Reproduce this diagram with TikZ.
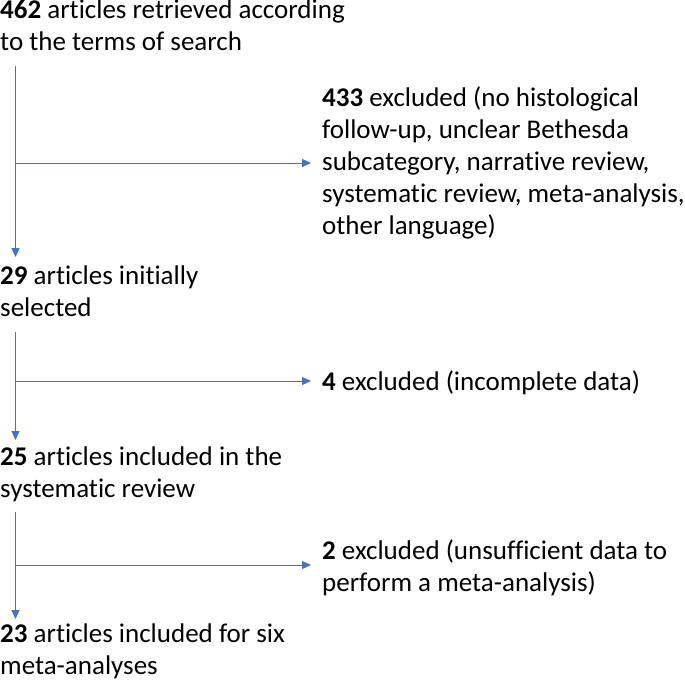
\documentclass[tikz,border=0pt]{standalone}
\usepackage{fontspec}
\setmainfont{Carlito}[Ligatures=NoCommon]
\usetikzlibrary{arrows.meta}
\definecolor{lblue}{HTML}{4472C4}
\tikzset{
  txt/.style={anchor=base west, inner sep=0pt, align=left, font=\fontsize{27}{32}\selectfont},
  arr/.style={draw=lblue, line width=1pt, -{Triangle[length=9pt,width=8pt]}},
}
\begin{document}
\begin{tikzpicture}[x=1pt,y=-1pt]
\useasboundingbox (0,0) rectangle (685,682);
% anchor base = baseline of the last line
\node[txt] (n1) at (0,51) {\textbf{462} articles retrieved according\\to the terms of search};
\node[txt] (n2) at (322,234) {\textbf{433} excluded (no histological\\follow-up, unclear Bethesda\\subcategory, narrative review,\\systematic review, meta-analysis,\\other language)};
\node[txt] (n3) at (0,316) {\textbf{29} articles initially\\selected};
\node[txt] (n4) at (322,390) {\textbf{4} excluded (incomplete data)};
\node[txt] (n5) at (0,497) {\textbf{25} articles included in the\\systematic review};
\node[txt] (n6) at (322,591) {\textbf{2} excluded (unsufficient data to\\perform a meta-analysis)};
\node[txt] (n7) at (0,674) {\textbf{23} articles included for six\\meta-analyses};
% connector points
\coordinate (s1) at (15.5,66);
\coordinate (e1) at (15.5,257);
\coordinate (h1) at (15.5,163);
\coordinate (t1) at (311,163);
\coordinate (s2) at (15.5,332);
\coordinate (e2) at (15.5,440);
\coordinate (h2) at (15.5,381);
\coordinate (t2) at (311,381);
\coordinate (s3) at (15.5,512);
\coordinate (e3) at (15.5,619);
\coordinate (h3) at (15.5,565);
\coordinate (t3) at (311,565);
\draw[arr] (s1) -- (e1);
\draw[arr] (h1) -- (t1);
\draw[arr] (s2) -- (e2);
\draw[arr] (h2) -- (t2);
\draw[arr] (s3) -- (e3);
\draw[arr] (h3) -- (t3);
\end{tikzpicture}
\end{document}
